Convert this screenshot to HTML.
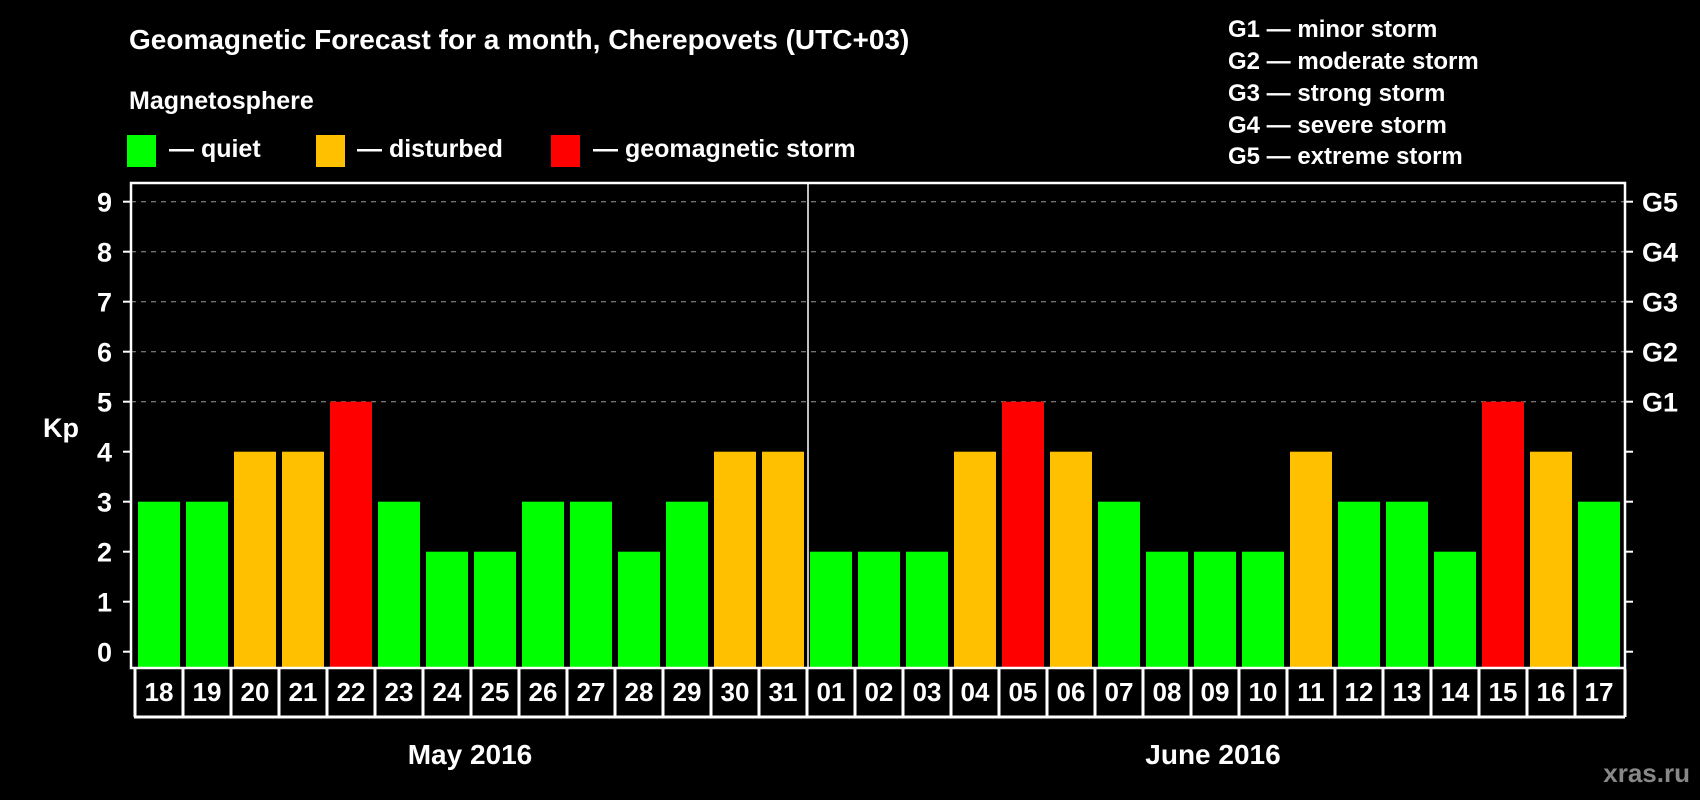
<!DOCTYPE html>
<html><head><meta charset="utf-8"><style>
html,body{margin:0;padding:0;background:#000;}
svg{display:block;font-family:"Liberation Sans",Arial,sans-serif;font-weight:bold;}
</style></head><body>
<svg id="chart" width="1700" height="800" viewBox="0 0 1700 800">
<rect x="0" y="0" width="1700" height="800" fill="#000"/>
<text x="129" y="49" font-size="28" fill="#fff">Geomagnetic Forecast for a month, Cherepovets (UTC+03)</text>
<text x="129" y="109" font-size="25" fill="#fff">Magnetosphere</text>
<g><rect x="127" y="135" width="29" height="32" fill="#00ff00"/><text x="169" y="157" font-size="25" fill="#fff">— quiet</text></g>
<g><rect x="316" y="135" width="29" height="32" fill="#ffc000"/><text x="357" y="157" font-size="25" fill="#fff">— disturbed</text></g>
<g><rect x="551" y="135" width="29" height="32" fill="#ff0000"/><text x="593" y="157" font-size="25" fill="#fff">— geomagnetic storm</text></g>
<g font-size="24" fill="#fff">
<text x="1228" y="37">G1 — minor storm</text>
<text x="1228" y="69">G2 — moderate storm</text>
<text x="1228" y="101">G3 — strong storm</text>
<text x="1228" y="133">G4 — severe storm</text>
<text x="1228" y="164">G5 — extreme storm</text>
</g>
<g id="grid"></g>
<g id="bars"></g>
<g id="axes"></g>
<text x="43" y="437" font-size="27" fill="#fff">Kp</text>
<text x="470" y="764" font-size="28" fill="#fff" text-anchor="middle">May 2016</text>
<text x="1213" y="764" font-size="28" fill="#fff" text-anchor="middle">June 2016</text>
<text x="1690" y="782" font-size="26" fill="#888" text-anchor="end">xras.ru</text>
</svg>
<script>
const days = ["18","19","20","21","22","23","24","25","26","27","28","29","30","31","01","02","03","04","05","06","07","08","09","10","11","12","13","14","15","16","17"];
const kpValues = [3,3,4,4,5,3,2,2,3,3,2,3,4,4,2,2,2,4,5,4,3,2,2,2,4,3,3,2,5,4,3];
const yTicks = [0,1,2,3,4,5,6,7,8,9];
const gLabels = ["G1","G2","G3","G4","G5"];
const gLevels = [5,6,7,8,9];

const NS = "http://www.w3.org/2000/svg";
const plotL = 131, plotR = 1625, plotT = 183, plotB = 668;
const slot0 = 132, slotW = 48, barOff = 6, barW = 42;
function yScale(v){ return 651.7 - 50*v; }
function xSlot(i){ return slot0 + slotW*i; }
function mk(tag, attrs, parent){ const e=document.createElementNS(NS,tag); for(const k in attrs) e.setAttribute(k,attrs[k]); parent.appendChild(e); return e; }
function colorFor(v){ return v>=5 ? "#ff0000" : (v>=4 ? "#ffc000" : "#00ff00"); }

const grid = document.getElementById("grid");
gLevels.forEach(function(v){
  const l = mk("line",{x1:plotL,x2:plotR,y1:yScale(v),y2:yScale(v),stroke:"#999","stroke-width":1,"stroke-dasharray":"5,5"},grid);
  
  
});

const bars = document.getElementById("bars");
kpValues.forEach(function(v,i){
  const y = yScale(v);
  const r = mk("rect",{x:xSlot(i)+barOff,y:y,width:barW,height:plotB-1-y,fill:colorFor(v)},bars);
  
  
});

const axes = document.getElementById("axes");
const frame = mk("rect",{x:plotL,y:plotT,width:plotR-plotL,height:plotB-plotT,fill:"none",stroke:"#fff","stroke-width":2.5},axes);


const div = mk("line",{x1:808,x2:808,y1:plotT,y2:plotB,stroke:"#fff","stroke-width":1.5},axes);



yTicks.forEach(function(v){
  const y = yScale(v);
  const t1 = mk("line",{x1:plotL-8,x2:plotL,y1:y,y2:y,stroke:"#fff","stroke-width":2},axes);
  
  
  const t2 = mk("line",{x1:plotR,x2:plotR+8,y1:y,y2:y,stroke:"#fff","stroke-width":2},axes);
  
  
  const tx = mk("text",{x:112,y:y+10,"font-size":27,fill:"#fff","text-anchor":"end"},axes);
  tx.textContent = String(v);
  
  
});
gLabels.forEach(function(g,i){
  const tx = mk("text",{x:1642,y:yScale(gLevels[i])+10,"font-size":27,fill:"#fff"},axes);
  tx.textContent = g;
  
  
});

const boxTop = 669, boxBot = 717;
const hl1 = mk("line",{x1:134,x2:plotR,y1:boxBot,y2:boxBot,stroke:"#fff","stroke-width":3},axes);


days.forEach(function(d,i){
  const x = 135 + slotW*i;
  const vl = mk("line",{x1:x,x2:x,y1:boxTop,y2:boxBot,stroke:"#fff","stroke-width":3},axes);
  
  
  const tx = mk("text",{x:x+24,y:701,"font-size":26,fill:"#fff","text-anchor":"middle"},axes);
  tx.textContent = d;
  
  
});
const vlast = mk("line",{x1:plotR,x2:plotR,y1:boxTop,y2:boxBot,stroke:"#fff","stroke-width":3},axes);


</script>
</body></html>
